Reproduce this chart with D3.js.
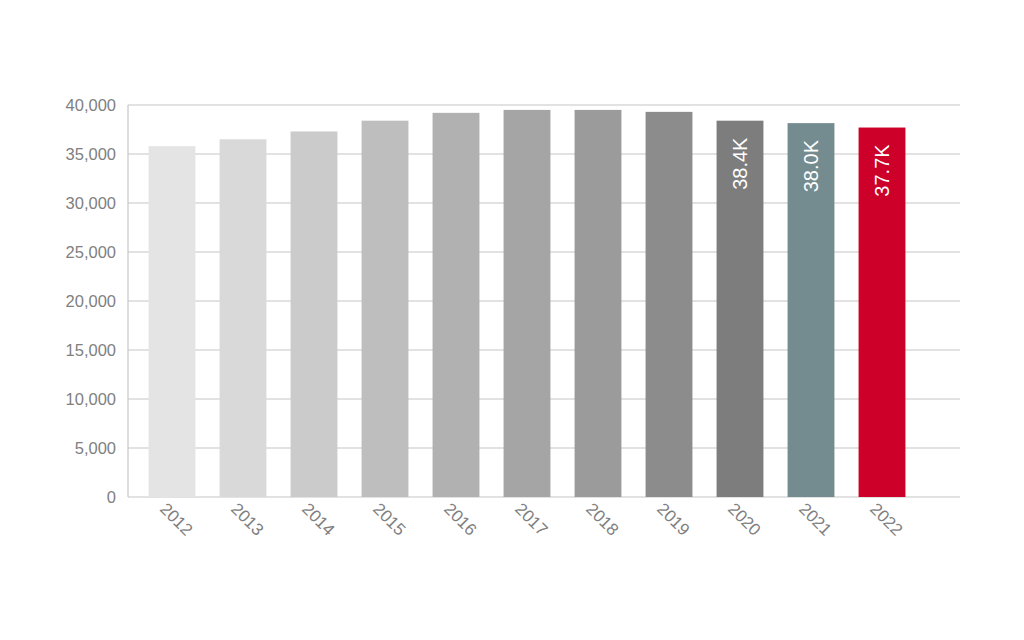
<!DOCTYPE html>
<html>
<head>
<meta charset="utf-8">
<script src="https://cdn.jsdelivr.net/npm/d3@7"></script>
<style>
  html, body { margin: 0; padding: 0; background: #fff; }
  svg { display: block; }
  text { font-family: "Liberation Sans", Arial, sans-serif; }
</style>
</head>
<body>
<svg id="chart" width="1024" height="640"></svg>
<script>
const years = ["2012","2013","2014","2015","2016","2017","2018","2019","2020","2021","2022"];
const values = [35800, 36500, 37300, 38400, 39200, 39500, 39500, 39300, 38400, 38150, 37700];
const barColors = ["#e4e4e4","#d9d9d9","#cbcbcb","#bebebe","#b1b1b1","#a5a5a5","#9b9b9b","#8c8c8c","#7d7d7d","#748b90","#cc0029"];
const barLabels = ["","","","","","","","","38.4K","38.0K","37.7K"];
const yTicks = [0, 5000, 10000, 15000, 20000, 25000, 30000, 35000, 40000];

const svg = d3.select("#chart");
const plotLeft = 128, plotRight = 960, plotTop = 105, plotBottom = 497;

const x = d3.scaleBand().domain(years).range([136.5, 917.5]).paddingInner(0.34).paddingOuter(0.17);
const y = d3.scaleLinear().domain([0, 40000]).range([plotBottom, plotTop]);

// gridlines
svg.append("g").selectAll("line").data(yTicks).join("line")
  .attr("x1", plotLeft).attr("x2", plotRight)
  .attr("y1", d => y(d)).attr("y2", d => y(d))
  .attr("stroke", "#c6c6c6").attr("stroke-width", 1.2);

// left axis line
svg.append("line")
  .attr("x1", plotLeft).attr("x2", plotLeft)
  .attr("y1", y(40000)).attr("y2", y(0))
  .attr("stroke", "#c6c6c6").attr("stroke-width", 1.2);

// y tick labels
const fmt = d3.format(",");
svg.append("g").selectAll("text").data(yTicks).join("text")
  .attr("x", 116).attr("y", d => y(d)).attr("dy", "0.36em")
  .attr("text-anchor", "end")
  .attr("font-size", 16.5).attr("fill", "#808080")
  .text(d => fmt(d));

// bars
svg.append("g").selectAll("rect").data(years).join("rect")
  .attr("x", d => x(d)).attr("width", x.bandwidth())
  .attr("y", (d, i) => y(values[i]))
  .attr("height", (d, i) => y(0) - y(values[i]))
  .attr("fill", (d, i) => barColors[i]);

// bar value labels (rotated)
svg.append("g").selectAll("text").data(years).join("text")
  .attr("transform", (d, i) => `translate(${x(d) + x.bandwidth() / 2 + 7},${y(values[i]) + 43}) rotate(-90)`)
  .attr("text-anchor", "middle")
  .attr("font-size", 20).attr("fill", "#ffffff")
  .text((d, i) => barLabels[i]);

// x labels (rotated 45)
svg.append("g").selectAll("text").data(years).join("text")
  .attr("transform", d => `translate(${x(d) + x.bandwidth() / 2 - 13},${510}) rotate(45)`)
  .attr("text-anchor", "start")
  .attr("font-size", 17).attr("fill", "#808080")
  .text(d => d);
</script>
</body>
</html>
